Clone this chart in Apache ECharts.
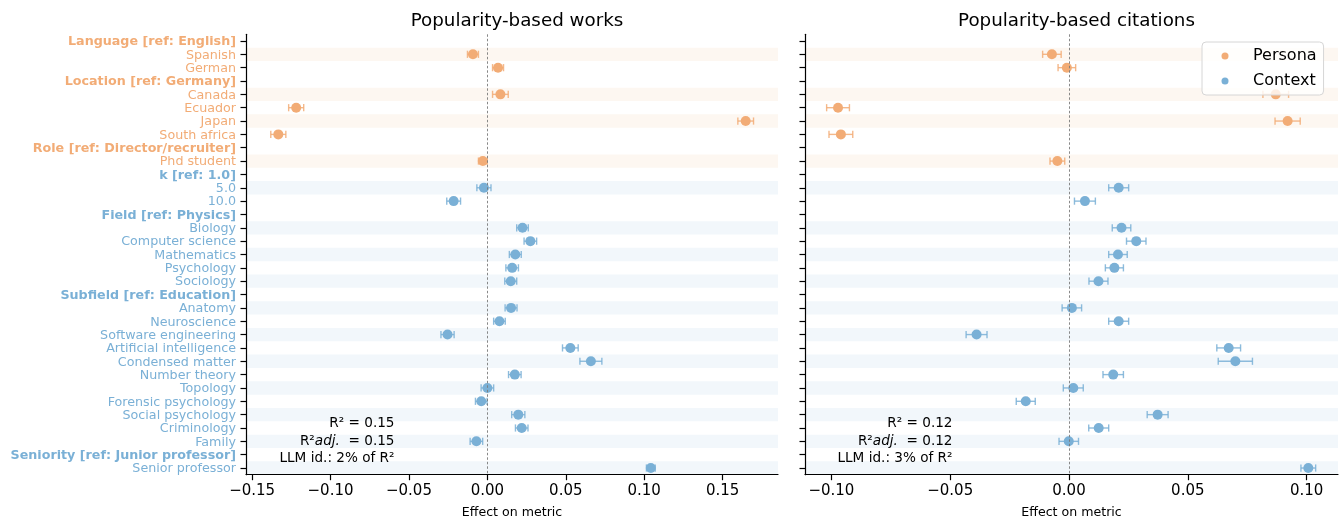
<!DOCTYPE html>
<html><head><meta charset="utf-8">
<script src="https://cdn.jsdelivr.net/npm/echarts@6/dist/echarts.min.js"></script>
<style>html,body{margin:0;padding:0;background:#fff}#c{width:1342px;height:520px}</style>
</head><body><div id="c"></div>
<script>
// ---------- data ----------
const personaCategories = ['Language [ref: English]', 'Spanish', 'German', 'Location [ref: Germany]', 'Canada', 'Ecuador', 'Japan', 'South africa', 'Role [ref: Director/recruiter]', 'Phd student'];
const contextCategories = ['k [ref: 1.0]', '5.0', '10.0', 'Field [ref: Physics]', 'Biology', 'Computer science', 'Mathematics', 'Psychology', 'Sociology', 'Subfield [ref: Education]', 'Anatomy', 'Neuroscience', 'Software engineering', 'Artificial intelligence', 'Condensed matter', 'Number theory', 'Topology', 'Forensic psychology', 'Social psychology', 'Criminology', 'Family', 'Seniority [ref: Junior professor]', 'Senior professor'];

const worksPersona    = [null, -0.0092, 0.0068, null, 0.0083, -0.1219, 0.1647, -0.1333, null, -0.0029];
const worksPersonaErr = [null, 0.0035, 0.0035, null, 0.0050, 0.0048, 0.0050, 0.0048, null, 0.0028];
const worksContext    = [null, -0.0022, -0.0215, null, 0.0224, 0.0274, 0.0178, 0.0158, 0.0149, null, 0.0151, 0.0077, -0.0254, 0.0529, 0.0660, 0.0175, 0.0000, -0.0039, 0.0197, 0.0219, -0.0070, null, 0.1042];
const worksContextErr = [null, 0.0045, 0.0044, null, 0.0037, 0.0040, 0.0038, 0.0040, 0.0038, null, 0.0038, 0.0037, 0.0042, 0.0050, 0.0070, 0.0040, 0.0040, 0.0037, 0.0042, 0.0040, 0.0040, null, 0.0028];

const citationsPersona    = [null, -0.0072, -0.0009, null, 0.0870, -0.0972, 0.0920, -0.0960, null, -0.0049];
const citationsPersonaErr = [null, 0.0039, 0.0037, null, 0.0054, 0.0048, 0.0053, 0.0050, null, 0.0031];
const citationsContext    = [null, 0.0209, 0.0067, null, 0.0221, 0.0283, 0.0206, 0.0191, 0.0124, null, 0.0012, 0.0209, -0.0389, 0.0672, 0.0700, 0.0186, 0.0018, -0.0182, 0.0373, 0.0125, -0.0001, null, 0.1007];
const citationsContextErr = [null, 0.0042, 0.0044, null, 0.0039, 0.0041, 0.0039, 0.0038, 0.0040, null, 0.0041, 0.0042, 0.0044, 0.0050, 0.0072, 0.0043, 0.0042, 0.0040, 0.0044, 0.0042, 0.0041, null, 0.0031];

const xTicksWorks = [-0.15, -0.10, -0.05, 0, 0.05, 0.10, 0.15];
const xTicksCitations = [-0.10, -0.05, 0, 0.05, 0.10];
const panelTitles = ['Popularity-based works', 'Popularity-based citations'];
const statsWorks = ['0.15', '0.15', '2%'];
const statsCitations = ['0.12', '0.12', '3%'];
const legendNames = ['Persona', 'Context'];

// ---------- styling ----------
const FONT = 'DejaVu Sans';
const ORANGE = '#f2ac76', BLUE = '#7ab0d6';
const BAND_P = '#fdf7f1', BAND_C = '#f2f7fb';
const categories = personaCategories.concat(contextCategories);
const nP = personaCategories.length;

function bandData() {
  const out = []; let k = 0;
  categories.forEach((c, i) => {
    if (c.indexOf('[ref:') >= 0) { k = 0; return; }
    if (k % 2 === 0) out.push([0, i, i < nP ? 0 : 1]);
    k++;
  });
  return out;
}
function pts(vals, errs, offset) {
  const out = [];
  vals.forEach((v, i) => { if (v !== null) out.push([v, i + offset, errs[i]]); });
  return out;
}
const fmt = v => (Math.abs(v) < 1e-9 ? 0 : v).toFixed(2).replace('-', '\u2212');

function panelSeries(g, pv, pe, cv, ce) {
  const bands = {
    type: 'custom', xAxisIndex: g, yAxisIndex: g, silent: true, z: 0,
    data: bandData(), encode: { x: 0, y: 1 },
    renderItem(params, api) {
      const cs = params.coordSys;
      const y = api.coord([0, api.value(1)])[1];
      const h = api.size([0, 1])[1];
      return { type: 'rect', shape: { x: cs.x, y: y - h / 2, width: cs.width, height: h },
               style: { fill: api.value(2) === 0 ? BAND_P : BAND_C } };
    }
  };
  const errSeries = (data, color) => ({
    type: 'custom', xAxisIndex: g, yAxisIndex: g, silent: true, z: 2,
    data, encode: { x: 0, y: 1 },
    renderItem(params, api) {
      const v = api.value(0), r = api.value(1), e = api.value(2);
      const a = api.coord([v - e, r]), b = api.coord([v + e, r]);
      const c = 3.6, st = { stroke: color, lineWidth: 1.4, opacity: 0.85 };
      return { type: 'group', children: [
        { type: 'line', shape: { x1: a[0], y1: a[1], x2: b[0], y2: b[1] }, style: st },
        { type: 'line', shape: { x1: a[0], y1: a[1] - c, x2: a[0], y2: a[1] + c }, style: st },
        { type: 'line', shape: { x1: b[0], y1: b[1] - c, x2: b[0], y2: b[1] + c }, style: st }
      ] };
    }
  });
  const pData = pts(pv, pe, 0), cData = pts(cv, ce, nP);
  return [
    bands,
    errSeries(pData, ORANGE),
    errSeries(cData, BLUE),
    { type: 'scatter', name: legendNames[0], xAxisIndex: g, yAxisIndex: g, z: 3,
      symbol: 'circle', symbolSize: 10, itemStyle: { color: ORANGE, opacity: 1 },
      data: pData.map(d => [d[0], d[1]]),
      markLine: { silent: true, symbol: ['none', 'none'], label: { show: false },
        lineStyle: { type: [2.5, 2], color: '#7a7a7a', width: 0.9 }, data: [{ xAxis: 0 }] } },
    { type: 'scatter', name: legendNames[1], xAxisIndex: g, yAxisIndex: g, z: 3,
      symbol: 'circle', symbolSize: 10, itemStyle: { color: BLUE, opacity: 1 },
      data: cData.map(d => [d[0], d[1]]) }
  ];
}

function xAxis(g, min, max, ticks) {
  return {
    type: 'value', gridIndex: g, min, max,
    splitLine: { show: false },
    axisLine: { show: true, onZero: false, lineStyle: { color: '#000', width: 1.2 } },
    axisTick: { show: true, length: 5.5, customValues: ticks, lineStyle: { color: '#000', width: 1.2 } },
    axisLabel: { customValues: ticks, formatter: fmt, fontSize: 15, color: '#000', margin: 9, fontFamily: FONT },
    name: 'Effect on metric', nameLocation: 'middle', nameGap: 31.5,
    nameTextStyle: { fontSize: 12.6, color: '#000', fontFamily: FONT }
  };
}
function yAxis(g, showLabels) {
  return {
    type: 'category', gridIndex: g, data: categories, inverse: true,
    axisLine: { show: true, onZero: false, lineStyle: { color: '#000', width: 1.2 } },
    axisTick: { show: true, alignWithLabel: true, interval: 0, length: 5.5, lineStyle: { color: '#000', width: 1.2 } },
    splitLine: { show: false },
    axisLabel: {
      show: showLabels, interval: 0, margin: 10, fontSize: 12.7, fontFamily: FONT,
      formatter(value, idx) {
        const head = value.indexOf('[ref:') >= 0;
        const key = (idx < nP ? 'p' : 'c') + (head ? 'h' : '');
        return '{' + key + '|' + value + '}';
      },
      rich: {
        p: { color: ORANGE, fontSize: 12.7, fontFamily: FONT, padding: [2, 0, 0, 0] },
        ph: { color: ORANGE, fontSize: 12.7, fontWeight: 'bold', fontFamily: FONT, padding: [2, 0, 0, 0] },
        c: { color: BLUE, fontSize: 12.7, fontFamily: FONT, padding: [2, 0, 0, 0] },
        ch: { color: BLUE, fontSize: 12.7, fontWeight: 'bold', fontFamily: FONT, padding: [2, 0, 0, 0] }
      }
    }
  };
}
function statText(x, stats) {
  const base = { align: 'right', verticalAlign: 'middle', fontSize: 13.6, fontFamily: FONT, fill: '#000' };
  return [
    { type: 'text', x, y: 423.5, z: 10, style: Object.assign({ text: 'R\u00b2 = ' + stats[0] }, base) },
    { type: 'text', x, y: 441.2, z: 10, style: Object.assign({
        text: '{n|R\u00b2}{i|adj.}{n|  = ' + stats[1] + '}',
        rich: { n: { fontSize: 13.6, fontFamily: FONT, fill: '#000' }, i: { fontSize: 13.6, fontFamily: FONT, fontStyle: 'italic', fill: '#000' } } }, base) },
    { type: 'text', x, y: 458, z: 10, style: Object.assign({ text: 'LLM id.: ' + stats[2] + ' of R\u00b2' }, base) }
  ];
}

const chart = echarts.init(document.getElementById('c'), null, { renderer: 'canvas' });
chart.setOption({
  animation: false,
  backgroundColor: '#fff',
  textStyle: { fontFamily: FONT },
  title: [
    { text: panelTitles[0], left: 512, top: 7, textAlign: 'center', textStyle: { fontSize: 18.3, fontWeight: 'normal', color: '#000', fontFamily: FONT } },
    { text: panelTitles[1], left: 1071.5, top: 7, textAlign: 'center', textStyle: { fontSize: 18.3, fontWeight: 'normal', color: '#000', fontFamily: FONT } }
  ],
  grid: [
    { left: 246, top: 34.3, width: 532, height: 440.4, outerBoundsMode: 'none', containLabel: false },
    { left: 805, top: 34.3, width: 533, height: 440.4, outerBoundsMode: 'none', containLabel: false }
  ],
  xAxis: [xAxis(0, -0.1539, 0.1853, xTicksWorks), xAxis(1, -0.1111, 0.1132, xTicksCitations)],
  yAxis: [yAxis(0, true), yAxis(1, false)],
  legend: {
    data: legendNames, orient: 'vertical', left: 1202, top: 42,
    padding: [6, 7, 6, 19.5], itemWidth: 7, itemHeight: 7, itemGap: 9, icon: 'circle',
    backgroundColor: 'rgba(255,255,255,0.8)', borderColor: '#d6d6d6', borderWidth: 1, borderRadius: 4,
    formatter: n => '{t|' + n + '}',
    textStyle: { fontSize: 16, color: '#000', fontFamily: FONT,
      rich: { t: { fontSize: 16, color: '#000', fontFamily: FONT, lineHeight: 16, padding: [0, 0, 0, 19.5] } } }
  },
  graphic: statText(394.5, statsWorks).concat(statText(952.5, statsCitations)),
  series: panelSeries(0, worksPersona, worksPersonaErr, worksContext, worksContextErr)
    .concat(panelSeries(1, citationsPersona, citationsPersonaErr, citationsContext, citationsContextErr))
});
</script>
</body></html>
